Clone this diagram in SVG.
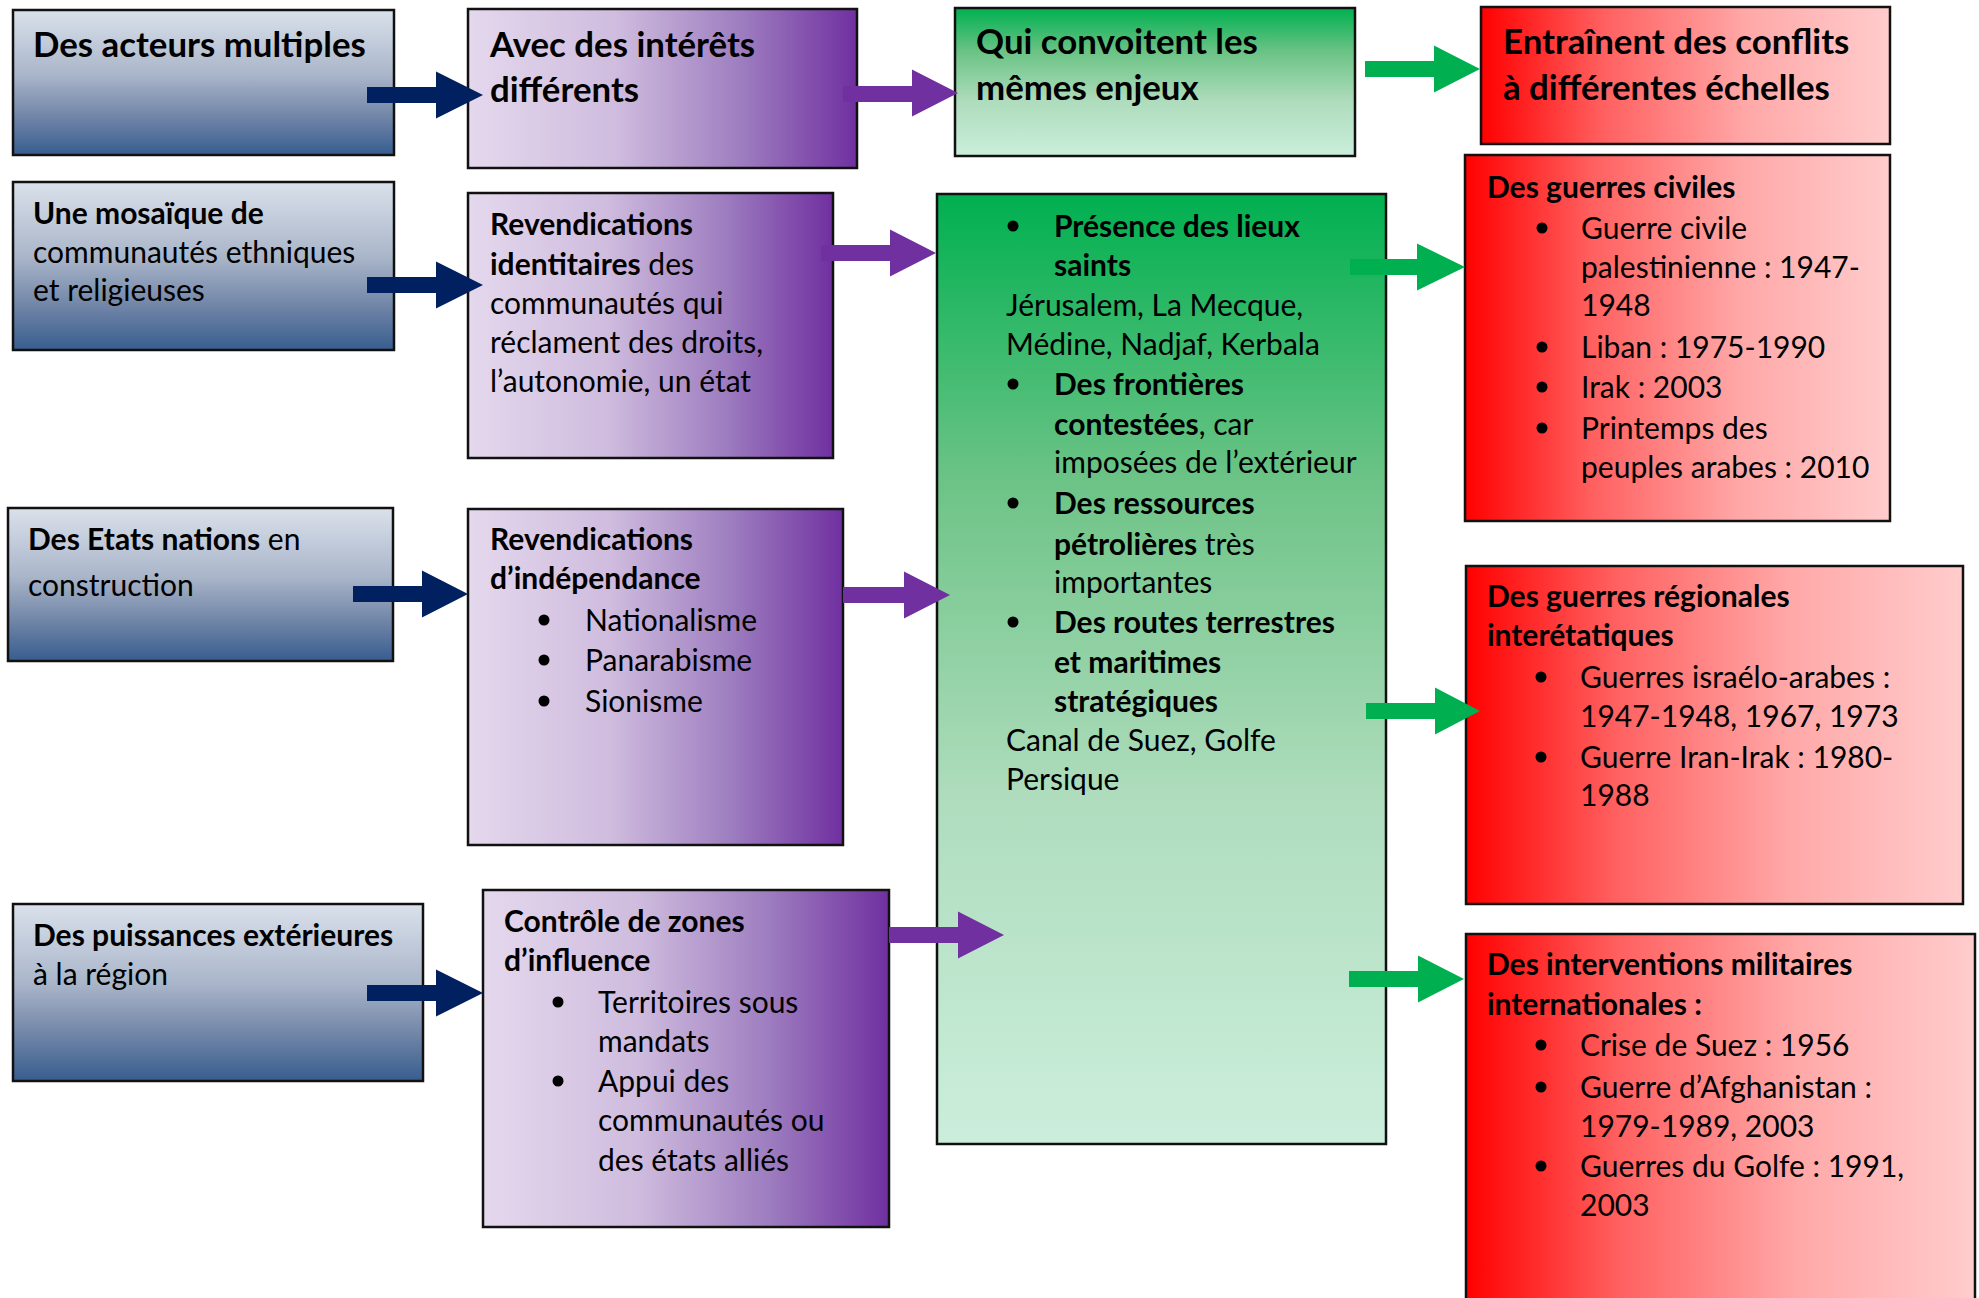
<svg xmlns="http://www.w3.org/2000/svg" width="1979" height="1298" viewBox="0 0 1979 1298">
<defs>
<linearGradient id="gBlue" x1="0" y1="0" x2="0" y2="1">
<stop offset="0" stop-color="#dae1eb"/><stop offset="0.45" stop-color="#a9b5c9"/><stop offset="0.75" stop-color="#6e83a6"/><stop offset="1" stop-color="#375d8f"/>
</linearGradient>
<linearGradient id="gPurple" x1="0" y1="0" x2="1" y2="0">
<stop offset="0" stop-color="#e4d8ed"/><stop offset="0.38" stop-color="#cfbcde"/><stop offset="0.7" stop-color="#9e7ec0"/><stop offset="1" stop-color="#7030a0"/>
</linearGradient>
<linearGradient id="gGreen" x1="0" y1="0" x2="0" y2="1">
<stop offset="0" stop-color="#00b050"/><stop offset="0.3" stop-color="#6cc386"/><stop offset="0.63" stop-color="#aedcbc"/><stop offset="1" stop-color="#cbeedc"/>
</linearGradient>
<linearGradient id="gRed" x1="0" y1="0" x2="1" y2="0">
<stop offset="0" stop-color="#ff0000"/><stop offset="0.3" stop-color="#ff6060"/><stop offset="0.65" stop-color="#ffa8a8"/><stop offset="1" stop-color="#ffcccc"/>
</linearGradient>
</defs>
<style>
.box{stroke:#111;stroke-width:2.5}
.blue{fill:url(#gBlue)}
.purple{fill:url(#gPurple)}
.green{fill:url(#gGreen)}
.red{fill:url(#gRed)}
text{font-family:Lato,"Open Sans","Liberation Sans",sans-serif;fill:#000}
.h{font-size:34.8px;font-weight:700}
.t{font-size:30px;font-weight:400}
.b{font-weight:700}
.dot{fill:#000}
.navy{fill:#002060}
.pur{fill:#7030a0}
.grn{fill:#00b050}
</style>

<g id="node-acteurs">
<rect class="box blue" x="13" y="10" width="381" height="145"/>
<text class="h" x="33" y="57">Des acteurs multiples</text>
</g>
<g id="node-mosaique">
<rect class="box blue" x="13" y="182" width="381" height="168"/>
<text class="t" x="33" y="224"><tspan class="b">Une mosaïque de</tspan></text>
<text class="t" x="33" y="263">communautés ethniques</text>
<text class="t" x="33" y="301">et religieuses</text>
</g>
<g id="node-etats">
<rect class="box blue" x="8" y="508" width="385" height="153"/>
<text class="t" x="28" y="550"><tspan class="b">Des Etats nations</tspan> en</text>
<text class="t" x="28" y="596">construction</text>
</g>
<g id="node-puissances">
<rect class="box blue" x="13" y="904" width="410" height="177"/>
<text class="t" x="33" y="946"><tspan class="b">Des puissances extérieures</tspan></text>
<text class="t" x="33" y="985">à la région</text>
</g>

<g id="node-interets">
<rect class="box purple" x="468" y="9" width="389" height="159"/>
<text class="h" x="490" y="57">Avec des intérêts</text>
<text class="h" x="490" y="102">différents</text>
</g>
<g id="node-identitaires">
<rect class="box purple" x="468" y="193" width="365" height="265"/>
<text class="t" x="490" y="235"><tspan class="b">Revendications</tspan></text>
<text class="t" x="490" y="275"><tspan class="b">identitaires</tspan> des</text>
<text class="t" x="490" y="314">communautés qui</text>
<text class="t" x="490" y="353">réclament des droits,</text>
<text class="t" x="490" y="392">l’autonomie, un état</text>
</g>
<g id="node-independance">
<rect class="box purple" x="468" y="509" width="375" height="336"/>
<text class="t b" x="490" y="550">Revendications</text>
<text class="t b" x="490" y="589">d’indépendance</text>
<circle class="dot" cx="544" cy="620" r="5.5"/>
<text class="t" x="585" y="631">Nationalisme</text>
<circle class="dot" cx="544" cy="660" r="5.5"/>
<text class="t" x="585" y="671">Panarabisme</text>
<circle class="dot" cx="544" cy="701" r="5.5"/>
<text class="t" x="585" y="712">Sionisme</text>
</g>
<g id="node-influence">
<rect class="box purple" x="483" y="890" width="406" height="337"/>
<text class="t b" x="504" y="932">Contrôle de zones</text>
<text class="t b" x="504" y="971">d’influence</text>
<circle class="dot" cx="558" cy="1002" r="5.5"/>
<text class="t" x="598" y="1013">Territoires sous</text>
<text class="t" x="598" y="1052">mandats</text>
<circle class="dot" cx="558" cy="1081" r="5.5"/>
<text class="t" x="598" y="1092">Appui des</text>
<text class="t" x="598" y="1131">communautés ou</text>
<text class="t" x="598" y="1171">des états alliés</text>
</g>

<g id="node-convoitent">
<rect class="box green" x="955" y="8" width="400" height="148"/>
<text class="h" x="976" y="54">Qui convoitent les</text>
<text class="h" x="976" y="100">mêmes enjeux</text>
</g>
<g id="node-enjeux">
<rect class="box green" x="937" y="194" width="449" height="950"/>
<circle class="dot" cx="1013" cy="226" r="5.5"/>
<text class="t b" x="1054" y="237">Présence des lieux</text>
<text class="t b" x="1054" y="276">saints</text>
<text class="t" x="1006" y="316">Jérusalem, La Mecque,</text>
<text class="t" x="1006" y="355">Médine, Nadjaf, Kerbala</text>
<circle class="dot" cx="1013" cy="384" r="5.5"/>
<text class="t b" x="1054" y="395">Des frontières</text>
<text class="t" x="1054" y="435"><tspan class="b">contestées</tspan>, car</text>
<text class="t" x="1054" y="473">imposées de l’extérieur</text>
<circle class="dot" cx="1013" cy="503" r="5.5"/>
<text class="t b" x="1054" y="514">Des ressources</text>
<text class="t" x="1054" y="555"><tspan class="b">pétrolières</tspan> très</text>
<text class="t" x="1054" y="593">importantes</text>
<circle class="dot" cx="1013" cy="622" r="5.5"/>
<text class="t b" x="1054" y="633">Des routes terrestres</text>
<text class="t b" x="1054" y="673">et maritimes</text>
<text class="t b" x="1054" y="712">stratégiques</text>
<text class="t" x="1006" y="751">Canal de Suez, Golfe</text>
<text class="t" x="1006" y="790">Persique</text>
</g>

<g id="node-conflits">
<rect class="box red" x="1481" y="7" width="409" height="137"/>
<text class="h" x="1503" y="54">Entraînent des conflits</text>
<text class="h" x="1503" y="100">à différentes échelles</text>
</g>
<g id="node-civiles">
<rect class="box red" x="1465" y="155" width="425" height="366"/>
<text class="t b" x="1487" y="198">Des guerres civiles</text>
<circle class="dot" cx="1542" cy="228" r="5.5"/>
<text class="t" x="1581" y="239">Guerre civile</text>
<text class="t" x="1581" y="278">palestinienne : 1947-</text>
<text class="t" x="1581" y="316">1948</text>
<circle class="dot" cx="1542" cy="347" r="5.5"/>
<text class="t" x="1581" y="358">Liban : 1975-1990</text>
<circle class="dot" cx="1542" cy="387" r="5.5"/>
<text class="t" x="1581" y="398">Irak : 2003</text>
<circle class="dot" cx="1542" cy="428" r="5.5"/>
<text class="t" x="1581" y="439">Printemps des</text>
<text class="t" x="1581" y="478">peuples arabes : 2010</text>
</g>
<g id="node-regionales">
<rect class="box red" x="1466" y="566" width="497" height="338"/>
<text class="t b" x="1487" y="607">Des guerres régionales</text>
<text class="t b" x="1487" y="646">interétatiques</text>
<circle class="dot" cx="1541" cy="677" r="5.5"/>
<text class="t" x="1580" y="688">Guerres israélo-arabes :</text>
<text class="t" x="1580" y="727">1947-1948, 1967, 1973</text>
<circle class="dot" cx="1541" cy="757" r="5.5"/>
<text class="t" x="1580" y="768">Guerre Iran-Irak : 1980-</text>
<text class="t" x="1580" y="806">1988</text>
</g>
<g id="node-interventions">
<rect class="box red" x="1466" y="934" width="509" height="380"/>
<text class="t b" x="1487" y="975">Des interventions militaires</text>
<text class="t b" x="1487" y="1015">internationales :</text>
<circle class="dot" cx="1541" cy="1045" r="5.5"/>
<text class="t" x="1580" y="1056">Crise de Suez : 1956</text>
<circle class="dot" cx="1541" cy="1087" r="5.5"/>
<text class="t" x="1580" y="1098">Guerre d’Afghanistan :</text>
<text class="t" x="1580" y="1137">1979-1989, 2003</text>
<circle class="dot" cx="1541" cy="1166" r="5.5"/>
<text class="t" x="1580" y="1177">Guerres du Golfe : 1991,</text>
<text class="t" x="1580" y="1216">2003</text>
</g>

<g id="connectors">
<path class="navy" d="M367,87 H436 V71.5 L483,95 L436,118.5 V103 H367 Z"/>
<path class="navy" d="M367,277 H436 V261.5 L483,285 L436,308.5 V293 H367 Z"/>
<path class="navy" d="M353,586 H422 V570.5 L468,594 L422,617.5 V602 H353 Z"/>
<path class="navy" d="M367,985 H436 V969.5 L483,993 L436,1016.5 V1001 H367 Z"/>
<path class="pur" d="M843,86 H912 V69.5 L958,93 L912,116.5 V102 H843 Z"/>
<path class="pur" d="M821,245 H890 V229.5 L936,253 L890,276.5 V261 H821 Z"/>
<path class="pur" d="M843,587 H904 V571.5 L950,595 L904,618.5 V603 H843 Z"/>
<path class="pur" d="M889,927 H958 V911.5 L1004,935 L958,958.5 V943 H889 Z"/>
<path class="grn" d="M1365,61 H1434 V45.5 L1480,69 L1434,92.5 V77 H1365 Z"/>
<path class="grn" d="M1350,259 H1417 V243.5 L1465,267 L1417,290.5 V275 H1350 Z"/>
<path class="grn" d="M1366,703 H1435 V687.5 L1480,711 L1435,734.5 V719 H1366 Z"/>
<path class="grn" d="M1349,971 H1418 V955.5 L1464,979 L1418,1002.5 V987 H1349 Z"/>
</g>
</svg>
